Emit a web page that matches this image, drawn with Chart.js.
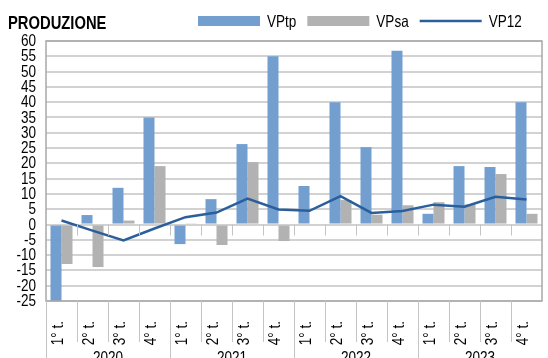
<!DOCTYPE html>
<html>
<head>
<meta charset="utf-8">
<title>Produzione</title>
<script src="https://cdn.jsdelivr.net/npm/chart.js@4/dist/chart.umd.min.js"></script>
<style>
    html, body { margin: 0; padding: 0; background: #fff; }
    #wrap { position: relative; width: 548px; height: 358px; }
</style>
</head>
<body>
<div id="wrap"><canvas id="chart"></canvas></div>
<script>
const quarters = ['1° t.', '2° t.', '3° t.', '4° t.'];
const years = ['2020', '2021', '2022', '2023'];
const labels = years.flatMap(() => quarters);

const vptp = [-25, 3.1, 12, 35, -6.4, 8.3, 26.3, 55, 12.6, 40, 25.3, 56.8, 3.5, 19.1, 18.8, 40];
const vpsa = [-12.9, -13.9, 1.3, 19.1, 0.4, -6.7, 20.4, -5.4, 0, 8, 3.2, 6.3, 7.3, 6.6, 16.5, 3.5];
const vp12 = [1.3, -2, -5.2, -1.3, 2.4, 3.9, 8.5, 4.9, 4.5, 9.3, 3.8, 4.4, 6.5, 5.8, 9.1, 8.2];

const yMin = -25;
const yMax = 60;
const yStep = 5;

const FONT = "'Liberation Sans', Arial, sans-serif";
const NARROW = 0.82; // squeeze Liberation Sans to a narrow face
const BLUE = '#729fcf';
const GRAY = '#b2b2b2';
const LINE = '#2b5f9c';

function narrowText(ctx, text, x, y, align, angle) {
    ctx.save();
    ctx.translate(x, y);
    if (angle) ctx.rotate(angle);
    ctx.scale(NARROW, 1);
    ctx.textAlign = align;
    ctx.fillText(text, 0, 0);
    ctx.restore();
}

// frame, category dividers, all texts and the legend
const decorations = {
    id: 'decorations',
    afterDatasetsDraw(chart) {
        const ctx = chart.ctx;
        const area = chart.chartArea;
        const x = chart.scales.x;
        const y = chart.scales.y;
        const step = x.getPixelForValue(1) - x.getPixelForValue(0);
        const zero = y.getPixelForValue(0);

        ctx.save();
        ctx.strokeStyle = '#a8a8a8';
        ctx.lineWidth = 1.5;
        ctx.strokeRect(area.left, area.top, area.right - area.left, area.bottom - area.top);

        ctx.strokeStyle = '#c4c4c4';
        ctx.lineWidth = 1;
        for (let i = 0; i < labels.length; i++) {
            const bx = Math.round(x.getPixelForValue(i) - step / 2) + 0.5;
            if (i > 0) {
                ctx.beginPath();
                ctx.moveTo(bx, zero);
                ctx.lineTo(bx, zero + 11);
                ctx.stroke();
            }
            ctx.beginPath();
            ctx.moveTo(bx, area.bottom);
            ctx.lineTo(bx, i % 4 === 0 ? chart.height : area.bottom + 41);
            ctx.stroke();
        }

        ctx.fillStyle = '#000';
        ctx.font = '16.5px ' + FONT;

        // y tick labels
        ctx.textBaseline = 'middle';
        y.ticks.forEach(t => {
            narrowText(ctx, String(t.value), 36, y.getPixelForValue(t.value) + 0.5, 'right');
        });

        // quarters, rotated, then years underneath
        ctx.textBaseline = 'alphabetic';
        labels.forEach((lab, i) => {
            narrowText(ctx, lab, x.getPixelForValue(i) + 1, area.bottom + 20, 'right', -Math.PI / 2);
        });
        years.forEach((yr, k) => {
            const cx = (x.getPixelForValue(k * 4) + x.getPixelForValue(k * 4 + 3)) / 2;
            narrowText(ctx, yr, cx, area.bottom + 62, 'center');
        });

        ctx.font = 'bold 18px ' + FONT;
        narrowText(ctx, 'PRODUZIONE', 8, 29, 'left');

        ctx.font = '16.5px ' + FONT;
        let lx = 198;
        chart.data.datasets.forEach(ds => {
            if (ds.type === 'line') {
                ctx.strokeStyle = ds.borderColor;
                ctx.lineWidth = 2.5;
                ctx.beginPath();
                ctx.moveTo(lx, 21);
                ctx.lineTo(lx + 62, 21);
                ctx.stroke();
            } else {
                ctx.fillStyle = ds.backgroundColor;
                ctx.fillRect(lx, 16, 62, 10);
            }
            ctx.fillStyle = '#000';
            narrowText(ctx, ds.label, lx + 69, 27, 'left');
            lx += 69 + ctx.measureText(ds.label).width * NARROW + 11;
        });
        ctx.restore();
    }
};

function showChart() {
    const canvasChart = document.getElementById('chart').getContext('2d');
    new Chart(canvasChart, {
        data: {
            labels: labels,
            datasets: [
                {
                    type: 'bar',
                    label: 'VPtp',
                    data: vptp,
                    backgroundColor: BLUE,
                    categoryPercentage: 0.71,
                    barPercentage: 1,
                    order: 1
                },
                {
                    type: 'bar',
                    label: 'VPsa',
                    data: vpsa,
                    backgroundColor: GRAY,
                    categoryPercentage: 0.71,
                    barPercentage: 1,
                    order: 1
                },
                {
                    type: 'line',
                    label: 'VP12',
                    data: vp12,
                    borderColor: LINE,
                    borderWidth: 2.5,
                    pointRadius: 0,
                    tension: 0,
                    fill: false,
                    order: 0
                }
            ]
        },
        options: {
            responsive: true,
            maintainAspectRatio: false,
            animation: false,
            layout: {
                padding: { top: 41, right: 6, bottom: 57, left: 0 }
            },
            plugins: {
                legend: { display: false },
                tooltip: { enabled: false }
            },
            scales: {
                x: {
                    display: false,
                    offset: true
                },
                y: {
                    min: yMin,
                    max: yMax,
                    afterFit(scale) { scale.width = 46; },
                    border: { display: false },
                    grid: { color: '#d2d2d2', lineWidth: 2, drawTicks: false },
                    ticks: {
                        display: false,
                        stepSize: yStep
                    }
                }
            }
        },
        plugins: [decorations]
    });
}

document.addEventListener('DOMContentLoaded', function() {
    showChart();
});
</script>
</body>
</html>
